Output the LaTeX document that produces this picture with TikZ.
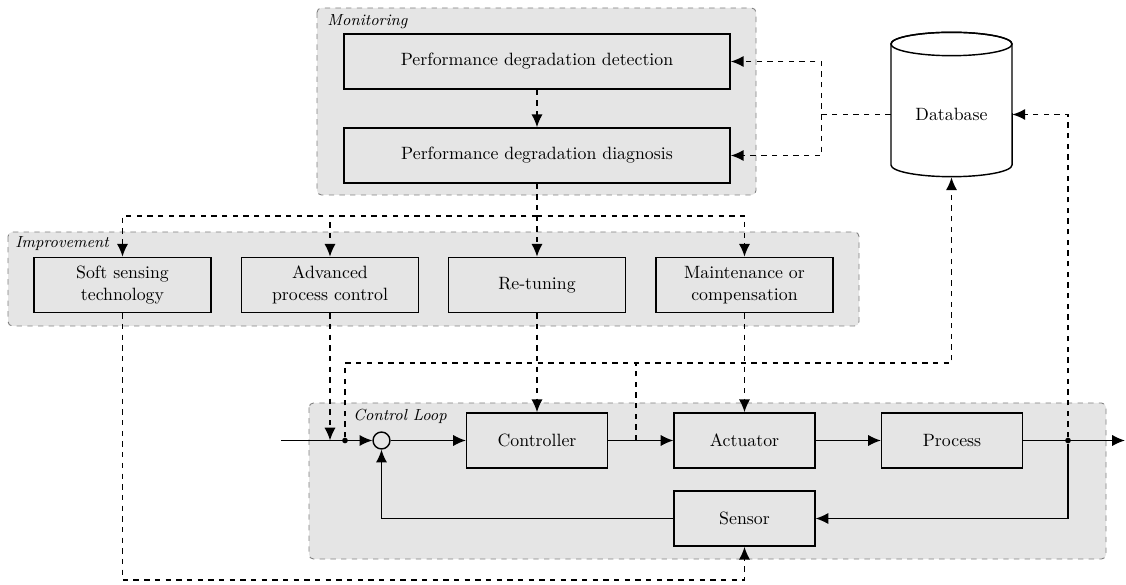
\documentclass[tikz,border=0pt]{standalone}
\usetikzlibrary{arrows.meta,calc}
\begin{document}
\begin{tikzpicture}[x=0.5618pt,y=-0.5618pt,
  >={Latex[length=7.2pt,width=6.3pt]},
  group/.style={draw=gray, dashed, fill=gray!20, rounded corners=2.5pt, line width=0.5pt},
  grouplabel/.style={font=\small\itshape, inner sep=0pt, anchor=base west},
  block/.style={draw, line width=0.8pt, minimum height=31pt, align=center, inner sep=2pt},
  wideblock/.style={block, minimum width=217pt},
  impblock/.style={block, minimum width=99.5pt},
  loopblock/.style={block, minimum width=79pt},
  sig/.style={line width=0.8pt},
  info/.style={line width=0.8pt, dashed},
  junction/.style={circle, fill, inner sep=0pt, minimum size=3.2pt},
  sumnode/.style={circle, draw, line width=0.8pt, minimum size=9.5pt, inner sep=0pt},
]
\useasboundingbox (0,0) rectangle (1126,585);

% grouping panels
\draw[group] (317,8) rectangle (756,195);
\draw[group] (8,232) rectangle (859,326);
\draw[group] (309,403) rectangle (1106,559);
\node[grouplabel] at (327,26) {Monitoring};
\node[grouplabel] at (15,248) {Improvement};
\node[grouplabel] at (353,421) {Control Loop};

% monitoring
\node[wideblock] (det)  at (537,61.5)  {Performance degradation detection};
\node[wideblock] (diag) at (537,155.5) {Performance degradation diagnosis};

% improvement
\node[impblock] (soft)  at (122.5,285) {Soft sensing\\technology};
\node[impblock] (apc)   at (330,285)   {Advanced\\process control};
\node[impblock] (tune)  at (537,285)   {Re-tuning};
\node[impblock] (maint) at (744.5,285) {Maintenance or\\compensation};

% control loop
\node[loopblock] (ctrl) at (537,440.5)   {Controller};
\node[loopblock] (act)  at (744.5,440.5) {Actuator};
\node[loopblock] (proc) at (952,440.5)   {Process};
\node[loopblock] (sens) at (744.5,518.5) {Sensor};
\node[sumnode] (sum)  at (381.5,440.5) {};
\node[junction] (jin)  at (345,440.5) {};
\node[junction] (jout) at (1068,440.5) {};
\coordinate (in)   at (281,440.5);
\coordinate (out)  at (1125,440.5);
\coordinate (utap) at (636,440.5);
\coordinate (up)   at (0,363);
\coordinate (low)  at (0,580);

% database cylinder
\draw[line width=0.8pt] (891,44) -- (891,165)
  arc[start angle=180, end angle=360, x radius=34pt, y radius=6.57pt]
  -- (1012,44)
  arc[start angle=0, end angle=180, x radius=34pt, y radius=6.57pt];
\draw[line width=0.8pt] (951.5,44) ellipse[x radius=34pt, y radius=6.57pt];
\node[inner sep=0pt, minimum width=68pt, minimum height=70.2pt] (db) at (951.5,114.5) {Database};

% information flow
\draw[info,->] (db.west) -- ++(-69,0) coordinate (dbsplit) |- (det.east);
\draw[info,->] (dbsplit) |- (diag.east);
\draw[info,->] (det) -- (diag);
\draw[info] (diag.south) -- ++(0,32) coordinate (fan);
\draw[info,->] (fan) -| (soft.north);
\draw[info,->] (fan) -| (apc.north);
\draw[info,->] (fan) -- (tune.north);
\draw[info,->] (fan) -| (maint.north);
\draw[info,->] (soft.south) -- (soft.south |- low) -| (sens.south);
\draw[info,->] (apc.south) -- (apc.south |- sum);
\draw[info,->] (tune.south) -- (ctrl.north);
\draw[info,->] (maint.south) -- (act.north);
\draw[info,->] (jin) -- (jin |- up) -| (db.south);
\draw[info] (utap) -- (utap |- up);
\draw[info,->] (jout) |- (db.east);

% signal flow
\draw[sig,->] (in) -- (sum.west);
\draw[sig,->] (sum) -- (ctrl);
\draw[sig,->] (ctrl) -- (act);
\draw[sig,->] (act) -- (proc);
\draw[sig,->] (proc) -- (out);
\draw[sig,->] (jout) |- (sens.east);
\draw[sig,->] (sens.west) -| (sum.south);
\end{tikzpicture}
\end{document}
